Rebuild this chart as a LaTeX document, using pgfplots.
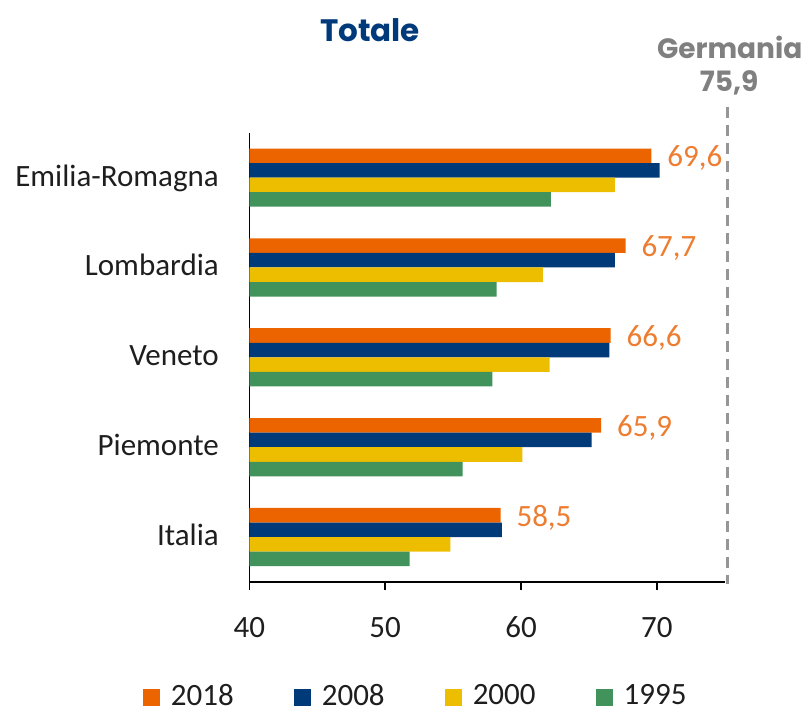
\documentclass[border=0pt]{standalone}
\usepackage{fontspec}
\setmainfont{Carlito}
\newfontfamily\pop{Poppins}
\usepackage{pgfplots}
\usepackage{pgfplotstable}
\pgfplotsset{compat=1.18}
\definecolor{c18}{RGB}{236,100,0}
\definecolor{c08}{RGB}{0,58,120}
\definecolor{c00}{RGB}{237,190,0}
\definecolor{c95}{RGB}{66,146,92}
\definecolor{lab}{RGB}{237,125,49}
\definecolor{tit}{RGB}{0,58,122}
\definecolor{ger}{RGB}{128,128,128}
\definecolor{dsh}{RGB}{150,150,150}
\definecolor{txt}{RGB}{30,30,30}

\pgfplotstableread{
y v18 v08 v00 v95
0 58.5 58.6 54.8 51.8
1 65.9 65.2 60.1 55.7
2 66.6 66.5 62.1 57.9
3 67.7 66.9 61.6 58.2
4 69.6 70.2 66.9 62.2
}\data

\begin{document}
\begin{tikzpicture}
\path[use as bounding box] (0pt,0pt) rectangle (804pt,708pt);
\begin{axis}[
 at={(249.3pt,126pt)}, anchor=south west,
 scale only axis, width=475.5pt, height=449.3pt,
 xmin=40, xmax=75, ymin=-0.5, ymax=4.5,
 axis x line*=bottom, axis y line*=left,
 axis line style={-, line width=1.5pt, black},
 xbar, bar width=0.162,
 xtick={40,50,60,70},
 ytick={0,1,2,3,4},
 yticklabels={Italia,Piemonte,Veneto,Lombardia,Emilia-Romagna},
 ytick style={draw=none},
 xtick style={line width=1.5pt, black},
 tick align=outside, major tick length=8pt,
 /pgf/number format/assume math mode=true,
 tick label style={font=\fontsize{31}{36}\selectfont, inner sep=0pt, text=txt},
 xticklabel style={anchor=base, yshift=-47.5pt},
 yticklabel style={anchor=base east, xshift=-22.3pt, yshift=-8.5pt},
 clip=false,
 legend columns=4,
 legend style={at={(axis description cs:-0.224,-0.2526)}, anchor=west,
   draw=none, fill=none, inner sep=0pt, outer sep=0pt,
   font=\fontsize{31}{36}\selectfont, text=txt,
   /tikz/every odd column/.append style={column sep=8.5pt},
   /tikz/every even column/.append style={column sep=58pt}},
 legend image code/.code={\fill[#1] (0pt,-11pt) rectangle (17.6pt,6.6pt);},
]
\addplot[fill=c18, draw=none, bar shift=0.243, point meta=x,
  nodes near coords={\pgfmathprintnumber[fixed,fixed zerofill,precision=1,use comma]{\pgfplotspointmeta}},
  every node near coord/.append style={anchor=base west, inner sep=0pt, xshift=15.7pt, yshift=-11pt, text=lab, font=\fontsize{31}{36}\selectfont}]
  table[x=v18,y=y]{\data};
\addplot[fill=c08, draw=none, bar shift=0.081] table[x=v08,y=y]{\data};
\addplot[fill=c00, draw=none, bar shift=-0.081] table[x=v00,y=y]{\data};
\addplot[fill=c95, draw=none, bar shift=-0.243] table[x=v95,y=y]{\data};
\legend{2018,2008,2000,1995}
\draw[dsh, line width=2.7pt, dash pattern=on 10.7pt off 7.3pt] (axis cs:75.18,4.786) -- (axis cs:75.18,-0.525);
\end{axis}
\node[text=tit, font=\pop\bfseries\fontsize{31}{35}\selectfont] at (370pt,677.7pt) {Totale};
\node[text=ger, font=\pop\bfseries\fontsize{28}{32}\selectfont] at (729.7pt,660.5pt) {Germania};
\node[text=ger, font=\pop\bfseries\fontsize{28}{32}\selectfont] at (729.2pt,625pt) {75,9};
\end{tikzpicture}
\end{document}
